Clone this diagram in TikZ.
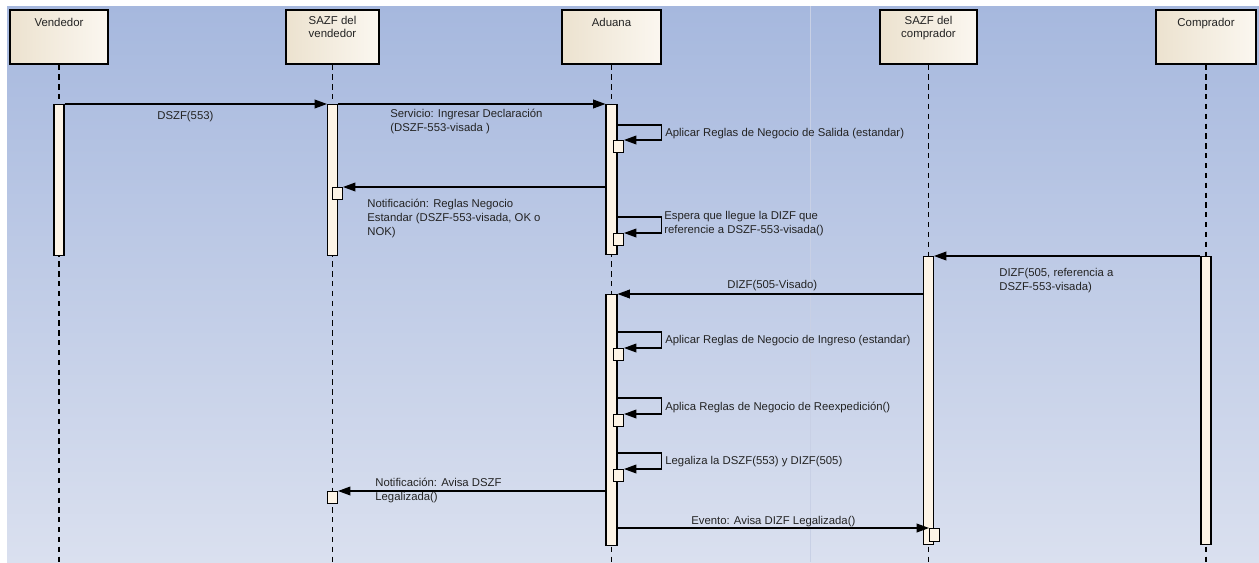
\documentclass[tikz,border=0pt]{standalone}
\usepackage{fontspec}
\setmainfont{Liberation Sans}
\usepackage{xcolor}
\usetikzlibrary{arrows.meta}

\definecolor{bgtop}{RGB}{166,184,222}
\definecolor{bgbot}{RGB}{218,224,239}
\definecolor{headA}{RGB}{236,226,207}
\definecolor{headB}{RGB}{251,247,240}
\definecolor{barfill}{RGB}{253,244,230}
\definecolor{guide}{RGB}{200,208,229}
\definecolor{txt}{RGB}{35,35,35}

\begin{document}
\begin{tikzpicture}[x=0.02cm, y=-0.02cm,
  head/.style={draw, line width=0.7pt, left color=headA, right color=headB,
    minimum height=1.08cm, inner sep=0pt},
  htext/.style={anchor=north, align=center, inner sep=0pt, text=txt,
    font=\fontsize{6.5}{7.4}\selectfont},
  bar/.style={draw, line width=0.6pt, fill=barfill, anchor=north,
    minimum width=0.2cm, inner sep=0pt},
  box/.style={draw, line width=0.6pt, fill=barfill, anchor=north west,
    minimum width=0.2cm, minimum height=0.23cm, inner sep=0pt},
  life/.style={line width=0.7pt, dash pattern=on 3pt off 2.6pt},
  msg/.style={line width=0.6pt, -{Triangle[length=7pt,width=5pt]}},
  lbl/.style={inner sep=0pt, text=txt, align=left,
    font=\fontsize{6.45}{7.9}\selectfont}]
  \useasboundingbox (0,0) rectangle (1259,562);
  \fill[white] (0,0) rectangle (1259,562);
  \fill[top color=bgtop, bottom color=bgbot] (7,6) rectangle (1259,562);
  \draw[guide, line width=0.5pt] (810,6) -- (810,562);

  % heads
  \node[head, minimum width=1.96cm] (hv) at (59,37) {};
  \node[head, minimum width=1.86cm] (hsv) at (332.5,37) {};
  \node[head, minimum width=1.98cm] (ha) at (611.5,37) {};
  \node[head, minimum width=1.94cm] (hsc) at (928.5,37) {};
  \node[head, minimum width=2.0cm] (hc) at (1206,37) {};
  \node[htext, yshift=-5pt] (tv) at (hv.north) {Vendedor};
  \node[htext, yshift=-3.8pt] (tsv) at (hsv.north) {SAZF del\\vendedor};
  \node[htext, yshift=-5pt] (ta) at (ha.north) {Aduana};
  \node[htext, yshift=-3.8pt] (tsc) at (hsc.north) {SAZF del\\comprador};
  \node[htext, yshift=-5pt] (tc) at (hc.north) {Comprador};

  \coordinate (bot) at (0,562);
  \foreach \h in {hv,hsv,ha,hsc,hc}
    \draw[life] (\h.south) -- (\h.south |- bot);

  % activations
  \node[bar, minimum height=3.02cm] (vbar) at (59,104) {};
  \node[bar, minimum height=3.02cm] (svbar) at (332.5,104) {};
  \node[bar, minimum width=0.22cm, minimum height=3.0cm] (abar1) at (611.5,104) {};
  \node[bar, minimum width=0.22cm, minimum height=5.02cm] (abar2) at (611.5,294) {};
  \node[bar, minimum height=5.76cm] (scbar) at (928.5,256) {};
  \node[bar, minimum height=5.76cm] (cbar) at (1206,256) {};

  \node[box] (sb1) at (613,140) {};
  \node[box] (nb1) at (332,187) {};
  \node[box] (sb2) at (613,233) {};
  \node[box] (sb3) at (613,348) {};
  \node[box] (sb4) at (613,414) {};
  \node[box] (sb5) at (613,469) {};
  \node[box] (nb2) at (327,491) {};
  \node[box, minimum height=0.26cm] (eb) at (929,528) {};

  % messages
  \draw[msg] (vbar.north east) -- (svbar.north west);
  \draw[msg] (svbar.north east) -- (abar1.north west);
  \draw[msg] (abar1.east |- sb1.north) ++(0,-15) -- ++(44,0) |- (sb1.north east);
  \draw[msg] (abar1.west |- nb1.north) -- (nb1.north east);
  \draw[msg] (abar1.east |- sb2.north) ++(0,-16) -- ++(44,0) |- (sb2.north east);
  \draw[msg] (cbar.north west) -- (scbar.north east);
  \draw[msg] (scbar.west |- abar2.north) -- (abar2.north east);
  \draw[msg] (abar2.east |- sb3.north) ++(0,-16) -- ++(44,0) |- (sb3.north east);
  \draw[msg] (abar2.east |- sb4.north) ++(0,-16) -- ++(44,0) |- (sb4.north east);
  \draw[msg] (abar2.east |- sb5.north) ++(0,-16) -- ++(44,0) |- (sb5.north east);
  \draw[msg] (abar2.west |- nb2.north) -- (nb2.north east);
  \draw[msg] (abar2.east |- eb.north) -- (eb.north west);

  % labels
  \node[lbl, anchor=west] (l1) at (157,117) {DSZF(553)};
  \node[lbl, anchor=north west] (l2) at (390,109) {Servicio: Ingresar Declaración\\(DSZF-553-visada )};
  \node[lbl, anchor=west] (l3) at (665,134) {Aplicar Reglas de Negocio de Salida (estandar)};
  \node[lbl, anchor=north west] (l4) at (367,199) {Notificación: Reglas Negocio\\Estandar (DSZF-553-visada, OK o\\NOK)};
  \node[lbl, anchor=north west] (l5) at (664,211) {Espera que llegue la DIZF que\\referencie a DSZF-553-visada()};
  \node[lbl, anchor=north west] (l6) at (999,268) {DIZF(505, referencia a\\DSZF-553-visada)};
  \node[lbl, anchor=west] (l7) at (727,286) {DIZF(505-Visado)};
  \node[lbl, anchor=west] (l8) at (665,341) {Aplicar Reglas de Negocio de Ingreso (estandar)};
  \node[lbl, anchor=west] (l9) at (665,407) {Aplica Reglas de Negocio de Reexpedición()};
  \node[lbl, anchor=west] (l10) at (665,462) {Legaliza la DSZF(553) y DIZF(505)};
  \node[lbl, anchor=north west] (l11) at (375,478) {Notificación: Avisa DSZF\\Legalizada()};
  \node[lbl, anchor=west] (l12) at (691,522) {Evento: Avisa DIZF Legalizada()};
\end{tikzpicture}
\end{document}
